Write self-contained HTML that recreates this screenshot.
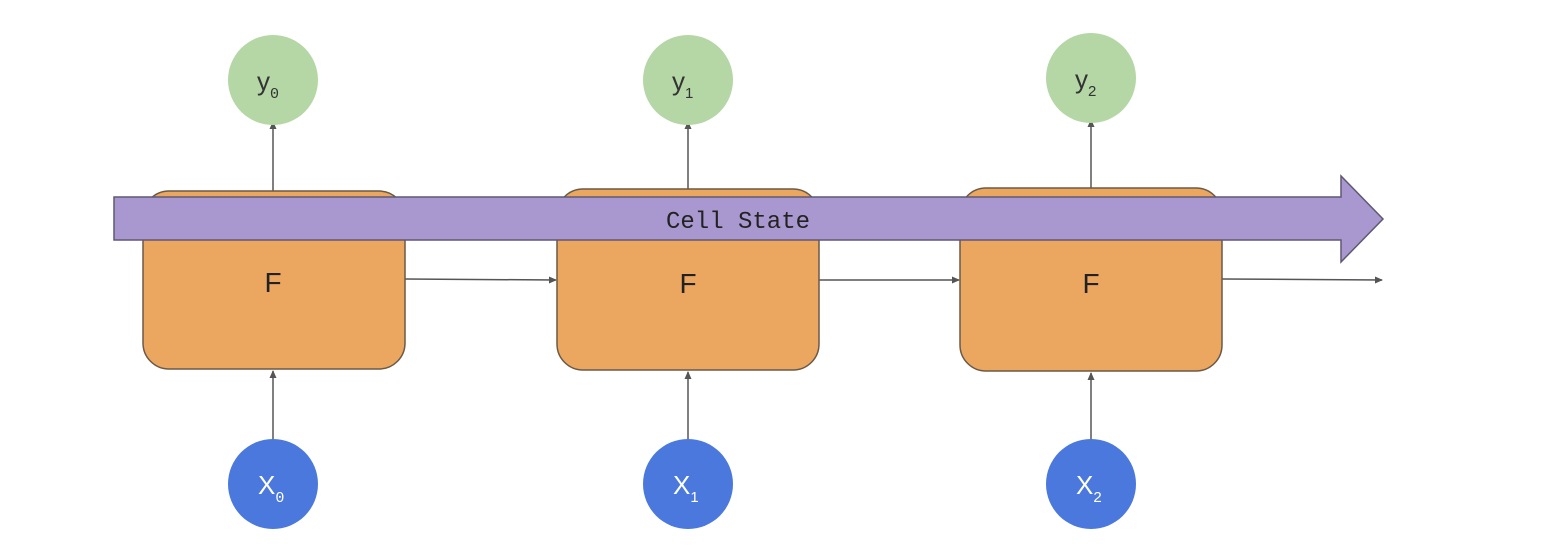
<!DOCTYPE html>
<html><head><style>body{margin:0;background:#fff}</style></head><body>
<svg width="1561" height="549" xmlns="http://www.w3.org/2000/svg">
<defs><marker id="a" markerWidth="8" markerHeight="8" refX="7" refY="4" orient="auto" markerUnits="userSpaceOnUse"><path d="M0,0.5 L8,4 L0,7.5z" fill="#555"/></marker></defs>
<g stroke="#555" stroke-width="1.5" fill="none">
<line x1="273" y1="191" x2="273" y2="122" marker-end="url(#a)"/>
<line x1="688" y1="189" x2="688" y2="122" marker-end="url(#a)"/>
<line x1="1091" y1="188" x2="1091" y2="120" marker-end="url(#a)"/>
<line x1="273" y1="440" x2="273" y2="371" marker-end="url(#a)"/>
<line x1="688" y1="440" x2="688" y2="372" marker-end="url(#a)"/>
<line x1="1091" y1="440" x2="1091" y2="373" marker-end="url(#a)"/>
<line x1="405" y1="279" x2="556" y2="280" marker-end="url(#a)"/>
<line x1="819" y1="280" x2="959" y2="280" marker-end="url(#a)"/>
<line x1="1222" y1="279" x2="1382" y2="280" marker-end="url(#a)"/>
</g>
<g fill="#eba760" stroke="#6b5a48" stroke-width="1.5">
<rect x="143" y="191" width="262" height="178" rx="26"/>
<rect x="557" y="189" width="262" height="181" rx="26"/>
<rect x="960" y="188" width="262" height="183" rx="26"/>
</g>
<path d="M114,197 H1341 V176 L1383,219 L1341,262 V240 H114 Z" fill="#a998cf" stroke="#5f5873" stroke-width="1.5"/>
<text x="738" y="228" font-family="Liberation Mono, monospace" font-size="24" fill="#222" text-anchor="middle">Cell State</text>
<g font-family="Liberation Sans, sans-serif" font-size="28" fill="#222" text-anchor="middle">
<text x="273" y="292">F</text><text x="688" y="293">F</text><text x="1091" y="293">F</text>
</g>
<g fill="#b4d7a5"><circle cx="273" cy="80" r="45"/><circle cx="688" cy="80" r="45"/><circle cx="1091" cy="78" r="45"/></g>
<g fill="#4a78dc"><circle cx="273" cy="484" r="45"/><circle cx="688" cy="484" r="45"/><circle cx="1091" cy="484" r="45"/></g>
<g font-family="Liberation Sans, sans-serif" font-size="26" fill="#333">
<text x="257" y="90">y<tspan font-family="Liberation Mono, monospace" font-size="15" dy="8">0</tspan></text>
<text x="672" y="90">y<tspan font-size="15" dy="8">1</tspan></text>
<text x="1075" y="88">y<tspan font-size="15" dy="8">2</tspan></text>
</g>
<g font-family="Liberation Sans, sans-serif" font-size="26" fill="#fff">
<text x="258" y="494">X<tspan font-family="Liberation Mono, monospace" font-size="15" dy="8">0</tspan></text>
<text x="673" y="494">X<tspan font-size="15" dy="8">1</tspan></text>
<text x="1076" y="494">X<tspan font-size="15" dy="8">2</tspan></text>
</g>
</svg>
</body></html>
